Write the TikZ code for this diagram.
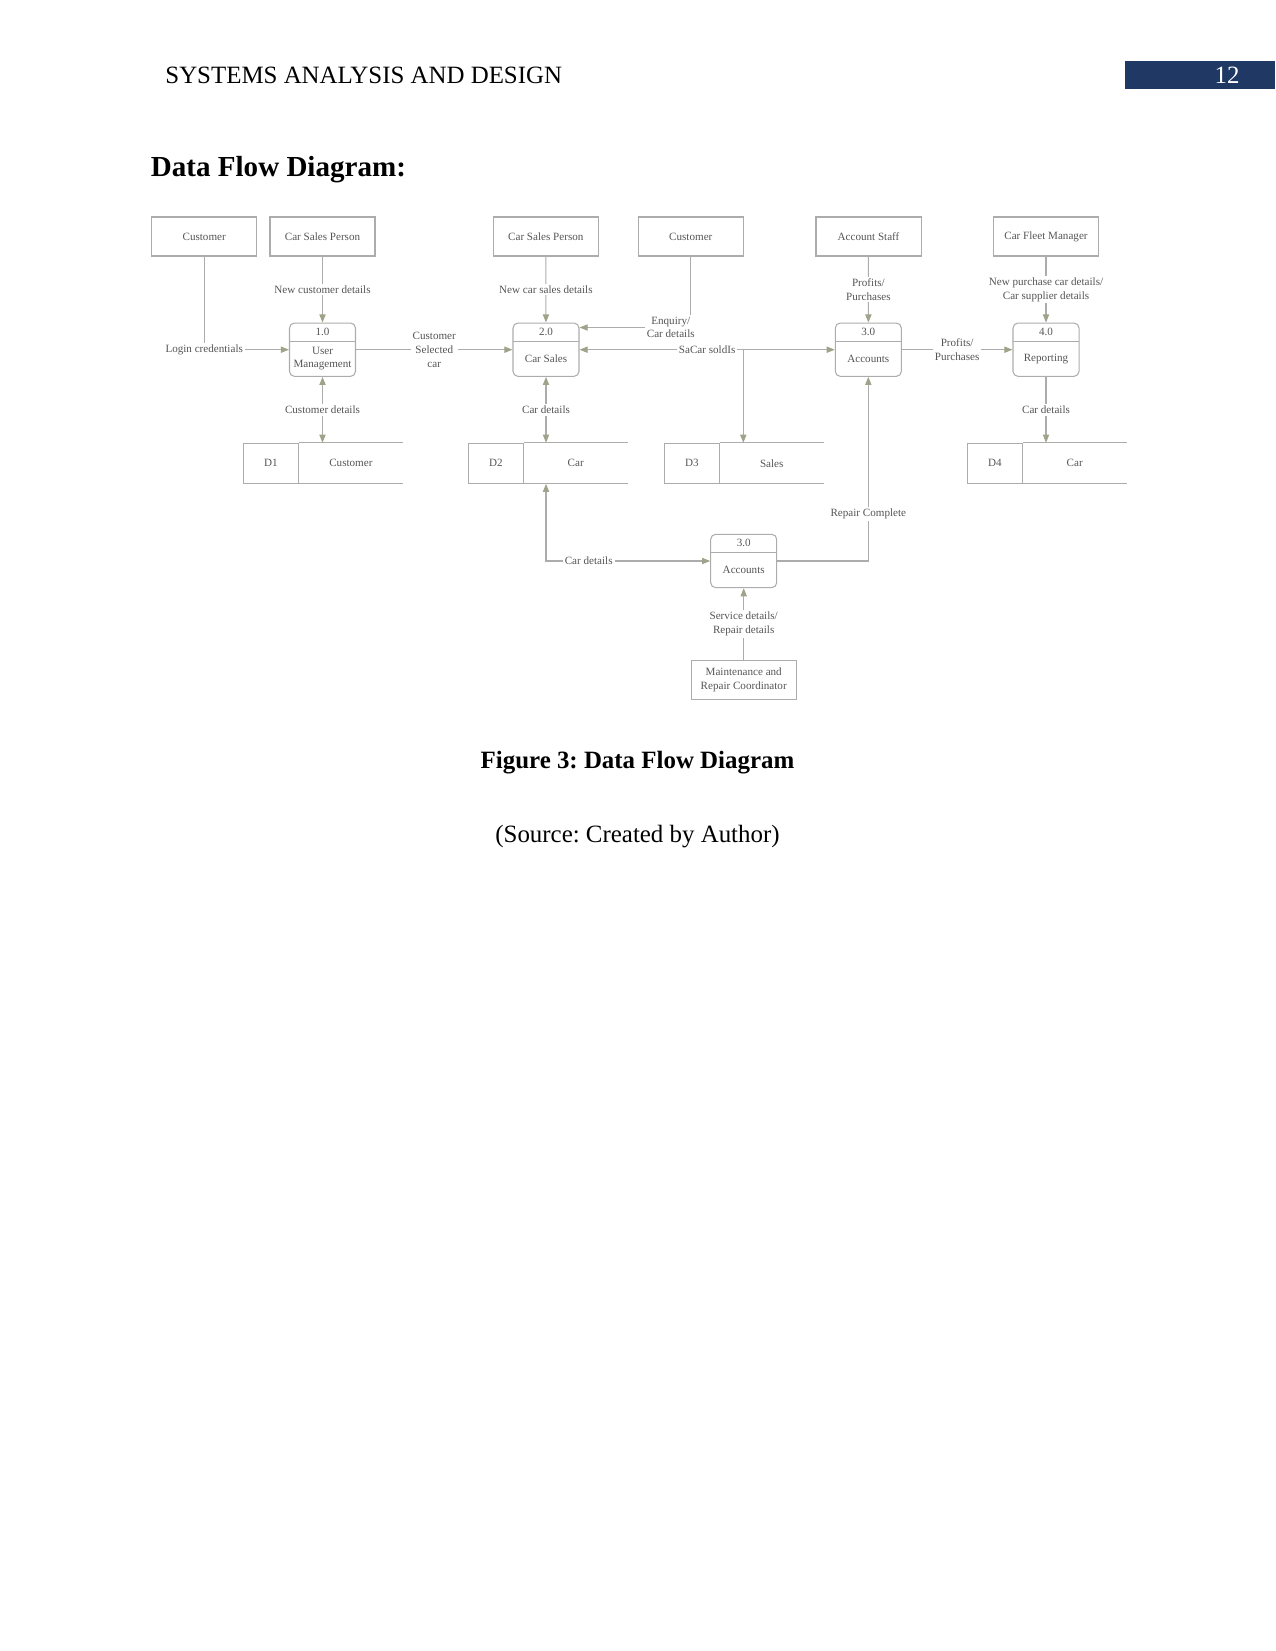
\documentclass[tikz,border=0pt]{standalone}
\usepackage{fontspec}
\setmainfont{Liberation Serif}
\usepackage{xcolor}
\usepackage{tikz}
\usetikzlibrary{arrows.meta,positioning,calc}

\definecolor{linegray}{RGB}{172,172,172}
\definecolor{tipolive}{RGB}{158,163,138}
\definecolor{labelgray}{RGB}{85,85,85}
\definecolor{headblue}{RGB}{31,56,100}
\newcommand{\dfdfont}{\fontsize{5.35pt}{6.6pt}\selectfont}
\frenchspacing

\begin{document}
\begin{tikzpicture}[
  x=0.4818pt,y=-0.4818pt,
  >={Triangle[length=3.9pt,width=3pt,color=tipolive]},
  flow/.style={->,draw=linegray,line width=0.5pt},
  box/.style={draw=linegray,line width=0.5pt},
  entity/.style={box,minimum width=50.6pt,minimum height=18.8pt,
    inner sep=1pt,align=center,text=labelgray,font=\dfdfont},
  proc/.style={box,rounded corners=2.4pt,minimum width=31.8pt,
    minimum height=25.7pt,inner sep=0pt,
    path picture={\draw[linegray,line width=0.5pt]
      ([yshift=-8.7pt]path picture bounding box.north west) --
      ([yshift=-8.7pt]path picture bounding box.north east);}},
  pnum/.style={anchor=north,inner sep=2.5pt,text=labelgray,font=\dfdfont},
  pname/.style={inner sep=0pt,align=center,text=labelgray,font=\dfdfont},
  storeid/.style={box,minimum width=26.5pt,minimum height=19.3pt,
    inner sep=0pt,text=labelgray,font=\dfdfont},
  storename/.style={minimum width=49.6pt,minimum height=19.3pt,
    inner sep=0pt,text=labelgray,font=\dfdfont},
  lab/.style={fill=white,inner sep=1pt,align=center,text=labelgray,
    font=\dfdfont},
  page/.style={inner sep=0pt,font=\fontsize{12pt}{14pt}\selectfont}
]
  \useasboundingbox (0,0) rectangle (1275,1651);

  % page head and title
  \node[page,anchor=base west] (runhead) at (165,84)
    {SYSTEMS ANALYSIS AND DESIGN};
  \fill[headblue] (1125,61) rectangle (1275,89);
  \node[page,anchor=base,text=white] (pageno) at (1227,83.5) {12};
  \node[page,anchor=base west,font=\fontsize{14pt}{17pt}\selectfont\bfseries]
    (title) at (150.5,177) {Data Flow Diagram:};

  % external entities
  \node[entity] (cust1) at (204.2,236.5) {Customer};
  \node[entity] (sales1) at (322.5,236.5) {Car Sales Person};
  \node[entity] (sales2) at (545.8,236.5) {Car Sales Person};
  \node[entity] (cust2) at (690.8,236.5) {Customer};
  \node[entity] (staff) at (868.5,236.5) {Account Staff};
  \node[entity] (fleet) at (1046,236.5) {Car Fleet Manager};
  \node[entity] (repair) at (743.7,680)
    {Maintenance and\\Repair Coordinator};

  % processes
  \node[proc,label={[pnum]north:1.0}] (users) at (322.5,349.7) {};
  \node[pname] (usersname) at ($(users)+(0,9)$) {User\\Management};
  \node[proc,label={[pnum]north:2.0}] (carsales) at (546,349.7) {};
  \node[pname] (carsalesname) at ($(carsales)+(0,9)$) {Car Sales};
  \node[proc,label={[pnum]north:3.0}] (accounts) at (868.3,349.7) {};
  \node[pname] (accountsname) at ($(accounts)+(0,9)$) {Accounts};
  \node[proc,label={[pnum]north:4.0}] (reporting) at (1046,349.7) {};
  \node[pname] (reportingname) at ($(reporting)+(0,9)$) {Reporting};
  \node[proc,label={[pnum]north:3.0}] (accounts2) at (743.7,561) {};
  \node[pname] (accounts2name) at ($(accounts2)+(0,9)$) {Accounts};

  % data stores
  \node[storeid] (d1) at (271,463.3) {D1};
  \node[storename,right=0pt of d1] (d1name) {Customer};
  \node[storeid] (d2) at (495.8,463.3) {D2};
  \node[storename,right=0pt of d2] (d2name) {Car};
  \node[storeid] (d3) at (691.8,463.3) {D3};
  \node[storename,right=0pt of d3] (d3name) {Sales};
  \node[storeid] (d4) at (994.8,463.3) {D4};
  \node[storename,right=0pt of d4] (d4name) {Car};
  \draw[box] (d1.north east) -- (d1.north east -| d1name.east)
    (d1.south east) -- (d1.south east -| d1name.east);
  \draw[box] (d2.north east) -- (d2.north east -| d2name.east)
    (d2.south east) -- (d2.south east -| d2name.east);
  \draw[box] (d3.north east) -- (d3.north east -| d3name.east)
    (d3.south east) -- (d3.south east -| d3name.east);
  \draw[box] (d4.north east) -- (d4.north east -| d4name.east)
    (d4.south east) -- (d4.south east -| d4name.east);

  % data flows
  \draw[flow] (cust1) |- (users) node[lab,pos=0.5] {Login credentials};
  \draw[flow] (sales1) -- (users) node[lab,midway] {New customer details};
  \draw[flow,<->] (users) -- (users |- d1.north)
    node[lab,midway] {Customer details};
  \draw[flow] (users) -- (carsales) node[lab,midway] {Customer\\Selected\\car};
  \draw[flow] (sales2) -- (carsales) node[lab,midway] {New car sales details};
  \draw[flow] (cust2) |- ($(carsales.north east)+(0,5)$)
    node[lab,pos=0.59] {Enquiry/\\Car details};
  \draw[flow,<->] (carsales) -- (accounts) node[lab,midway] {SaCar soldIs};
  \coordinate (soldsplit) at (743.3,349.7);
  \draw[flow] (soldsplit) -- (soldsplit |- d3.north);
  \draw[flow,<->] (carsales) -- (carsales |- d2.north)
    node[lab,midway] {Car details};
  \draw[flow] (staff) -- (accounts) node[lab,midway] {Profits/\\Purchases};
  \draw[flow] (accounts) -- (reporting) node[lab,midway] {Profits/\\Purchases};
  \draw[flow] (fleet) -- (reporting)
    node[lab,midway] {New purchase car details/\\Car supplier details};
  \draw[flow] (reporting) -- (reporting |- d4.north)
    node[lab,midway] {Car details};
  \draw[flow,<->] (carsales |- d2.south) |- (accounts2)
    node[lab,pos=0.63] {Car details};
  \draw[flow] (accounts2) -| (accounts) node[lab,pos=0.627] {Repair Complete};
  \draw[flow] (repair) -- (accounts2)
    node[lab,midway] {Service details/\\Repair details};

  % caption
  \node[page,anchor=base,font=\fontsize{12pt}{14pt}\selectfont\bfseries]
    (caption) at (637.5,768) {Figure 3: Data Flow Diagram};
  \node[page,anchor=base] (source) at (637.5,842)
    {(Source: Created by Author)};
\end{tikzpicture}
\end{document}
